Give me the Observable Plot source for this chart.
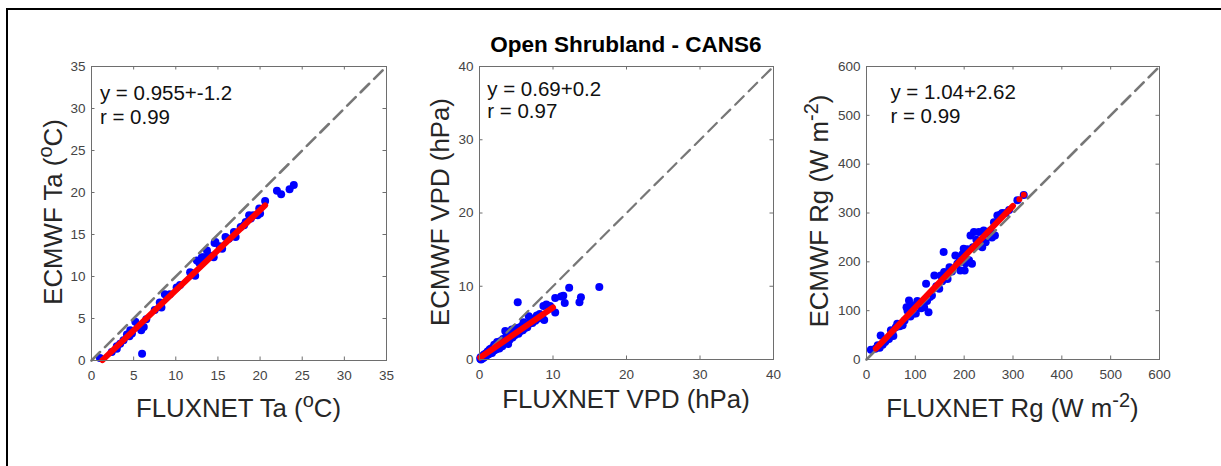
<!DOCTYPE html>
<html><head><meta charset="utf-8">
<script src="https://cdn.jsdelivr.net/npm/d3@7"></script>
<script src="https://cdn.jsdelivr.net/npm/@observablehq/plot@0.6"></script>
<style>
body{margin:0;background:#fff;overflow:hidden;}
#wrap{position:relative;width:1221px;height:466px;overflow:hidden;font-family:"Liberation Sans",Arial,sans-serif;background:#fff;}
#border{position:absolute;left:6px;top:8px;width:1400px;height:600px;border-left:2px solid #000;border-top:2px solid #000;}
</style></head><body><div id="wrap"><div id="border"></div></div>
<script>
// ---- data ----
const title = "Open Shrubland - CANS6";

const taFluxnet = [1.0,2.4,3.0,3.0,3.4,3.8,4.2,4.5,4.6,4.8,5.2,5.5,5.9,6.2,6.0,6.5,7.5,8.1,8.3,8.7,9.3,10.1,10.5,11.7,11.9,12.3,12.5,12.8,13.1,13.3,13.7,14.0,14.5,14.6,14.7,15.2,15.5,15.9,16.3,16.9,17.1,17.7,18.1,18.3,18.7,18.9,19.2,19.7,20.0,19.9,20.6,22.0,22.5,23.5,24.0];
const taEcmwf   = [0.3,1.0,1.4,1.7,2.0,2.4,3.1,2.9,3.6,3.2,4.6,4.0,3.6,4.0,0.8,4.9,6.0,6.9,6.3,7.9,7.9,8.7,9.0,10.5,10.4,10.1,11.9,11.6,12.3,12.3,13.1,12.5,12.3,14.0,14.1,13.6,13.3,14.7,14.5,15.3,14.7,15.9,16.1,16.5,17.3,16.9,17.3,17.3,17.5,18.1,19.0,20.2,19.8,20.4,20.9];

const vpdFluxnet = [0.1,0.15,0.2,0.3,0.35,0.4,0.5,0.55,0.6,0.7,0.8,0.85,0.9,1.0,1.05,1.1,1.2,1.3,1.35,1.4,1.5,1.6,1.7,1.8,1.9,2.0,2.1,2.2,2.3,2.4,2.5,2.6,2.7,2.8,2.9,3.0,3.1,3.2,3.3,3.5,3.6,3.7,3.8,3.9,4.0,4.1,4.3,4.4,4.5,4.6,4.8,4.9,5.0,5.1,5.2,5.3,5.5,5.6,5.8,5.9,6.0,6.2,6.3,6.5,6.7,6.8,7.0,7.2,7.4,7.6,7.8,8.0,8.2,8.5,8.8,8.7,9.1,9.6,10.3,10.3,11.1,11.4,11.6,12.2,13.6,13.8,16.3];
const vpdEcmwf   = [0.1,0.3,0.0,0.3,0.1,0.4,0.2,0.6,0.3,0.7,0.4,0.8,0.5,0.9,0.6,1.1,0.7,1.2,0.8,1.4,1.0,1.5,0.9,1.6,1.2,2.0,1.3,1.8,1.4,2.4,1.7,2.1,1.5,2.5,1.9,2.3,1.8,2.8,2.2,3.9,2.6,3.3,2.4,2.1,3.6,2.7,3.3,4.1,3.0,3.7,3.3,4.3,3.6,4.0,7.8,3.5,4.4,3.9,4.6,4.0,5.1,4.3,4.8,4.4,5.9,4.9,5.3,5.0,5.6,5.3,6.0,5.6,6.2,5.9,5.4,7.3,7.5,7.3,6.4,8.4,8.6,8.7,7.7,9.8,7.8,8.5,9.9];

const rgFluxnet = [9,18,23,27,29,33,38,40,46,50,53,55,60,63,68,74,78,82,84,87,90,94,97,101,104,108,112,118,122,124,127,130,134,139,143,149,152,155,158,159,166,170,175,182,186,190,192,196,199,201,203,207,210,213,216,218,220,225,230,233,237,240,244,248,254,257,261,263,268,271,275,278,285,292,309,322];
const rgEcmwf   = [20,22,29,24,49,30,36,39,42,60,56,48,66,73,68,70,80,107,100,121,88,111,94,94,120,114,105,107,155,120,97,128,131,172,150,145,172,160,220,179,165,189,180,213,196,200,182,215,227,182,197,226,203,254,196,230,261,245,261,233,230,264,240,258,264,250,281,254,295,295,297,300,300,306,326,337];

const axisTicks = [[0,5,10,15,20,25,30,35],[0,10,20,30,40],[0,100,200,300,400,500,600]];
const fitSlopes = [0.955, 0.69, 1.04];
const fitIntercepts = [-1.2, 0.2, 2.62];
const fitRanges = [[1.3, 20.6],[0.1, 10.0],[19, 300]];
const fitDots = [[],[],[313, 322]];
const rValues = [0.99, 0.97, 0.99];

// ---- drawing ----
const FONT = '"Liberation Sans", Arial, Helvetica, sans-serif';
const wrap = document.getElementById("wrap");

function panel(i, xs, ys, cfg) {
  const ticks = axisTicks[i];
  const domain = [ticks[0], ticks[ticks.length - 1]];
  const slope = fitSlopes[i], icpt = fitIntercepts[i];
  const pts = xs.map((x, k) => ({x, y: ys[k]}));
  const H = 466, mt = 66;
  const innerH = H - mt - cfg.mb, innerW = cfg.width - cfg.ml - cfg.mr;
  const fitLine = fitRanges[i].map(x => ({x, y: slope * x + icpt}));
  const extra = fitDots[i].map(x => ({x, y: slope * x + icpt}));
  const ann = [
    {x: cfg.ax, y: cfg.ay1, t: `y = ${slope}+${icpt}`},
    {x: cfg.ax, y: cfg.ay2, t: `r = ${rValues[i].toFixed(2)}`}
  ];
  const tl = 3.5;
  const svg = Plot.plot({
    width: cfg.width, height: H,
    marginLeft: cfg.ml, marginRight: cfg.mr, marginTop: mt, marginBottom: cfg.mb,
    style: {fontFamily: FONT, fontSize: "13.5px", background: "transparent", overflow: "visible"},
    x: {domain, ticks, label: null},
    y: {domain, ticks, label: null},
    marks: [
      Plot.dot(pts, {x: "x", y: "y", r: 4, fill: "#0000ff"}),
      Plot.line(domain.map(v => ({x: v, y: v})), {x: "x", y: "y", stroke: "#777", strokeWidth: cfg.dashW, strokeDasharray: "12,7"}),
      Plot.line(fitLine, {x: "x", y: "y", stroke: "#ff0000", strokeWidth: 6, strokeLinecap: "round"}),
      Plot.dot(extra, {x: "x", y: "y", r: 3, fill: "#ff0000"}),
      Plot.ruleX(ticks, {x: d => d, stroke: "#6e6e6e", insetTop: innerH - tl}),
      Plot.ruleX(ticks, {x: d => d, stroke: "#6e6e6e", insetBottom: innerH - tl}),
      Plot.ruleY(ticks, {y: d => d, stroke: "#6e6e6e", insetRight: innerW - tl}),
      Plot.ruleY(ticks, {y: d => d, stroke: "#6e6e6e", insetLeft: innerW - tl}),
      Plot.frame({stroke: "#6e6e6e", strokeWidth: 1}),
      Plot.axisX({ticks, tickSize: 0, tickPadding: 10, fill: "#444"}),
      Plot.axisY({ticks, tickSize: 0, tickPadding: 6, fill: "#444"}),
      Plot.text(ann, {x: "x", y: "y", text: "t", textAnchor: "start", lineAnchor: "bottom", fontSize: 20.5, fill: "#111"})
    ]
  });
  svg.style.position = "absolute";
  svg.style.left = cfg.left + "px";
  svg.style.top = "0px";
  const s = d3.select(svg);
  function label(x, y, parts, rotate) {
    const t = s.append("text")
      .attr("transform", `translate(${x},${y})` + (rotate ? " rotate(-90)" : ""))
      .attr("text-anchor", "middle")
      .attr("font-size", 25.8)
      .attr("fill", "#262626")
      .attr("font-family", FONT);
    parts.forEach(p => {
      if (Array.isArray(p)) {
        t.append("tspan").attr("font-size", 20).attr("dy", -10).text(p[0]);
      } else {
        const sp = t.append("tspan").text(p);
        if (t.selectAll("tspan").size() > 1) sp.attr("dy", 10);
      }
    });
  }
  label(cfg.xlx, cfg.xly, cfg.xlabel, false);
  label(cfg.ylx, cfg.yly, cfg.ylabel, true);
  if (cfg.title) {
    s.append("text").attr("x", cfg.title.x).attr("y", cfg.title.y)
      .attr("text-anchor", "middle").attr("font-size", 22.5).attr("font-weight", "bold")
      .attr("fill", "#000").attr("font-family", FONT).text(title);
  }
  wrap.appendChild(svg);
}

panel(0, taFluxnet, taEcmwf, {
  left: 0, width: 400, ml: 91, mr: 14, mb: 106, dashW: 2.6,
  ax: 1, ay1: 31.05, ay2: 28.1,
  xlx: 238.5, xly: 417, xlabel: ["FLUXNET Ta (", ["o"], "C)"],
  ylx: 62, yly: 212, ylabel: ["ECMWF Ta (", ["o"], "C)"]
});
panel(1, vpdFluxnet, vpdEcmwf, {
  left: 400, width: 400, ml: 79, mr: 27, mb: 107, dashW: 2.2,
  ax: 1.05, ay1: 35.95, ay2: 32.95,
  xlx: 226, xly: 408, xlabel: ["FLUXNET VPD (hPa)"],
  ylx: 49, yly: 212, ylabel: ["ECMWF VPD (hPa)"],
  title: {x: 226, y: 52}
});
panel(2, rgFluxnet, rgEcmwf, {
  left: 800, width: 421, ml: 66, mr: 62, mb: 107, dashW: 2.6,
  ax: 49, ay1: 534, ay2: 485,
  xlx: 212.5, xly: 417, xlabel: ["FLUXNET Rg (W m", ["-2"], ")"],
  ylx: 28, yly: 211, ylabel: ["ECMWF Rg (W m", ["-2"], ")"]
});
</script>
</body></html>
